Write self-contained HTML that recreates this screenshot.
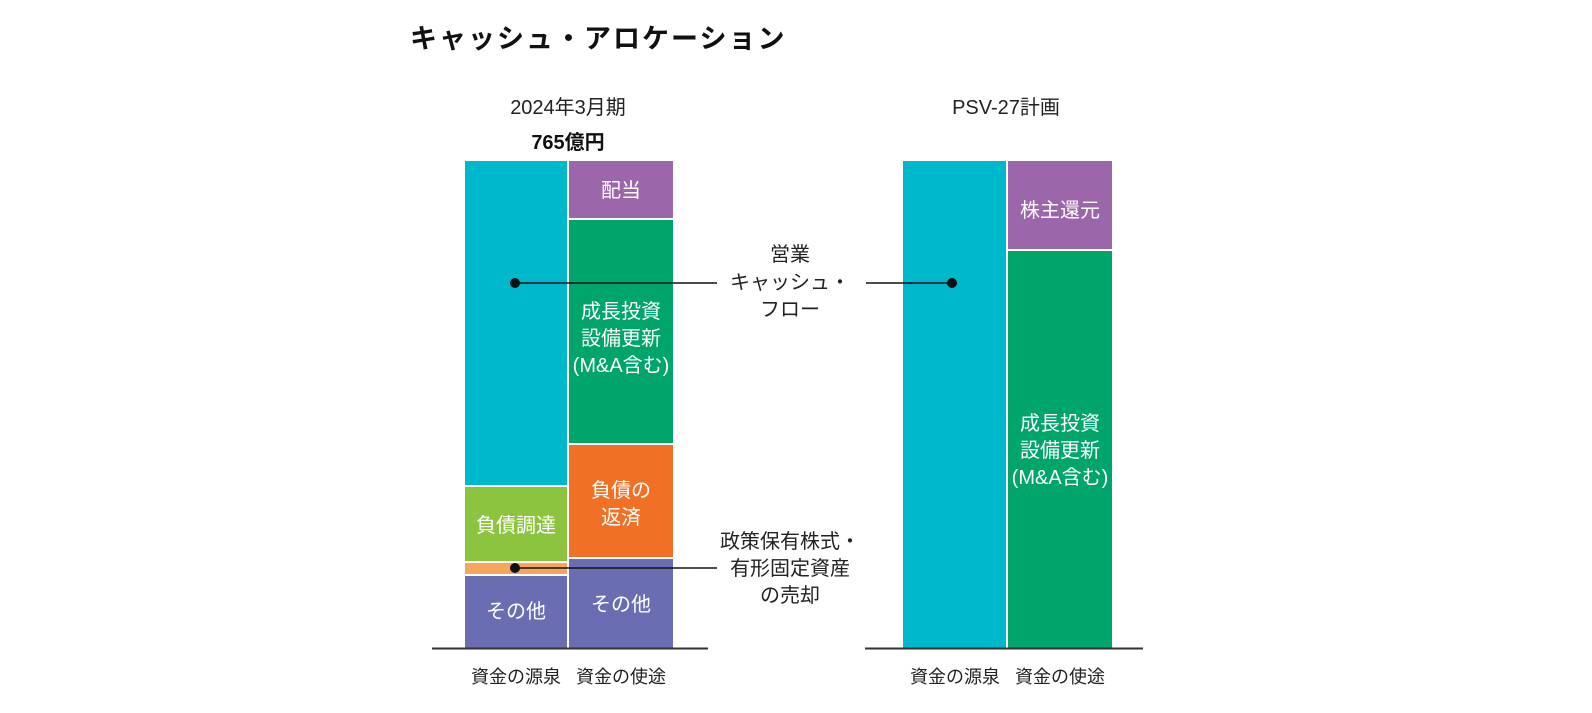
<!DOCTYPE html>
<html><head><meta charset="utf-8"><style>
html,body{margin:0;padding:0;background:#fff;width:1592px;height:713px;overflow:hidden}
text{font-family:"Liberation Sans","Noto Sans CJK JP",sans-serif}
</style></head><body>
<svg width="1592" height="713" viewBox="0 0 1592 713" xmlns="http://www.w3.org/2000/svg">
<text x="410" y="48" font-size="27" font-weight="bold" fill="#111" letter-spacing="2">キャッシュ・アロケーション</text>
<text x="568" y="114" font-size="20" text-anchor="middle" fill="#222">2024年3月期</text>
<text x="568" y="149" font-size="20" font-weight="bold" text-anchor="middle" fill="#111">765億円</text>
<text x="1006" y="114" font-size="20" text-anchor="middle" fill="#222">PSV-27計画</text>
<!-- left chart -->
<rect x="465" y="161" width="102" height="324" fill="#00b8cc"/>
<rect x="465" y="487" width="102" height="74" fill="#8dc43f"/>
<rect x="465" y="563" width="102" height="11" fill="#f6a65c"/>
<rect x="465" y="576" width="102" height="72" fill="#6a6db2"/>
<rect x="569" y="161" width="104" height="57" fill="#9c66aa"/>
<rect x="569" y="220" width="104" height="223" fill="#00a56b"/>
<rect x="569" y="445" width="104" height="112" fill="#f07125"/>
<rect x="569" y="559" width="104" height="89" fill="#6a6db2"/>
<line x1="432" y1="648.5" x2="708" y2="648.5" stroke="#333" stroke-width="2"/>
<!-- right chart -->
<rect x="903" y="161" width="103" height="487" fill="#00b8cc"/>
<rect x="1008" y="161" width="104" height="88" fill="#9c66aa"/>
<rect x="1008" y="251" width="104" height="397" fill="#00a56b"/>
<line x1="865" y1="648.5" x2="1143" y2="648.5" stroke="#333" stroke-width="2"/>
<g fill="#fff" font-size="20" text-anchor="middle">
<text x="621" y="197">配当</text>
<text x="621" y="318">成長投資</text>
<text x="621" y="345">設備更新</text>
<text x="621" y="372">(M&amp;A含む)</text>
<text x="621" y="497">負債の</text>
<text x="621" y="524">返済</text>
<text x="621" y="611">その他</text>
<text x="516" y="532">負債調達</text>
<text x="516" y="618">その他</text>
<text x="1060" y="217">株主還元</text>
<text x="1060" y="430">成長投資</text>
<text x="1060" y="457">設備更新</text>
<text x="1060" y="484">(M&amp;A含む)</text>
</g>
<!-- callouts -->
<line x1="515" y1="283" x2="717" y2="283" stroke="#111" stroke-width="1.5"/>
<circle cx="515" cy="283" r="5" fill="#111"/>
<line x1="866" y1="283" x2="952" y2="283" stroke="#111" stroke-width="1.5"/>
<circle cx="952" cy="283" r="5" fill="#111"/>
<line x1="515" y1="568" x2="717" y2="568" stroke="#111" stroke-width="1.5"/>
<circle cx="515" cy="568" r="5" fill="#111"/>
<g fill="#222" font-size="20" text-anchor="middle">
<text x="790" y="261">営業</text>
<text x="790" y="289">キャッシュ・</text>
<text x="790" y="316">フロー</text>
<text x="790" y="548">政策保有株式・</text>
<text x="790" y="575">有形固定資産</text>
<text x="790" y="602">の売却</text>
</g>
<g fill="#222" font-size="18" text-anchor="middle">
<text x="516" y="683">資金の源泉</text>
<text x="621" y="683">資金の使途</text>
<text x="955" y="683">資金の源泉</text>
<text x="1060" y="683">資金の使途</text>
</g>
</svg>
</body></html>
